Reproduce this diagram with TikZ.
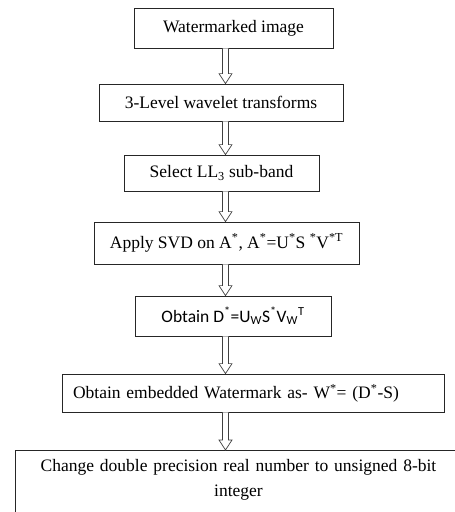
\documentclass[tikz,border=0pt]{standalone}
\usepackage{fontspec}
\setmainfont{Liberation Serif}
\newfontfamily\calib{Carlito}
\usetikzlibrary{calc}
\newcommand\myarrow[2]{\draw[harrow] let \p1=(#1.south -| ax), \p2=(#2.north -| ax) in
  (\x1-3pt,\y1) -- (\x1-3pt,\y2+10pt) -- (\x1-6.5pt,\y2+10pt) -- (\x2,\y2) --
  (\x1+6.5pt,\y2+10pt) -- (\x1+3pt,\y2+10pt) -- (\x1+3pt,\y1);}
\begin{document}
\begin{tikzpicture}[x=1pt,y=1pt,
  box/.style={draw=black!85, line width=0.8pt, inner sep=0pt, font=\fontsize{17.5}{20}\selectfont},
  boxline/.style={draw=black!85, line width=0.8pt},
  harrow/.style={draw=black!75, line width=0.7pt, fill=white}]
\useasboundingbox (0,0) rectangle (455,-512);
\coordinate (ax) at (225.5,0);
\node[box, minimum width=199pt, minimum height=40pt] (b1) at (233.5,-28) {Watermarked image};
\node[box, minimum width=244pt, minimum height=37pt] (b2) at (221,-102.5) {3-Level wavelet transforms};
\node[box, minimum width=195pt, minimum height=36pt] (b3) at (221.5,-173) {Select LL\textsubscript{3} sub-band};
\node[box, minimum width=265pt, minimum height=42pt] (b4) at (226.5,-243) {Apply SVD on A\textsuperscript{*}, A\textsuperscript{*}=U\textsuperscript{*}S \textsuperscript{*}V\textsuperscript{*T}};
\node[box, minimum width=196pt, minimum height=40pt, font=\calib\fontsize{17.5}{20}\selectfont] (b5) at (233,-316) {Obtain D\textsuperscript{*}=U\textsubscript{W}S\textsuperscript{*}V\textsubscript{W}\textsuperscript{T}};
\node[box, text width=360pt, align=left, inner xsep=11pt, minimum height=38pt] (b6) at (253,-393) {Obtain embedded Watermark as- W\textsuperscript{*}= (D\textsuperscript{*}-S)};
\node[font=\fontsize{17.5}{25}\selectfont, text width=445pt, align=center, anchor=north, inner sep=0pt] (b7) at (238.5,-459) {Change double precision real number to unsigned 8-bit\\integer};
\draw[boxline] ([yshift=-40pt]b7.south west) |- ([yshift=9pt]b7.north east) -- ([yshift=-40pt]b7.south east);
\myarrow{b1}{b2}
\myarrow{b2}{b3}
\myarrow{b3}{b4}
\myarrow{b4}{b5}
\myarrow{b5}{b6}
\coordinate (b7top) at ([yshift=9pt]b7.north);
\draw[harrow] let \p1=(b6.south -| ax), \p2=(b7top -| ax) in
  (\x1-3pt,\y1) -- (\x1-3pt,\y2+10pt) -- (\x1-6.5pt,\y2+10pt) -- (\x2,\y2) --
  (\x1+6.5pt,\y2+10pt) -- (\x1+3pt,\y2+10pt) -- (\x1+3pt,\y1);
\end{tikzpicture}
\end{document}
